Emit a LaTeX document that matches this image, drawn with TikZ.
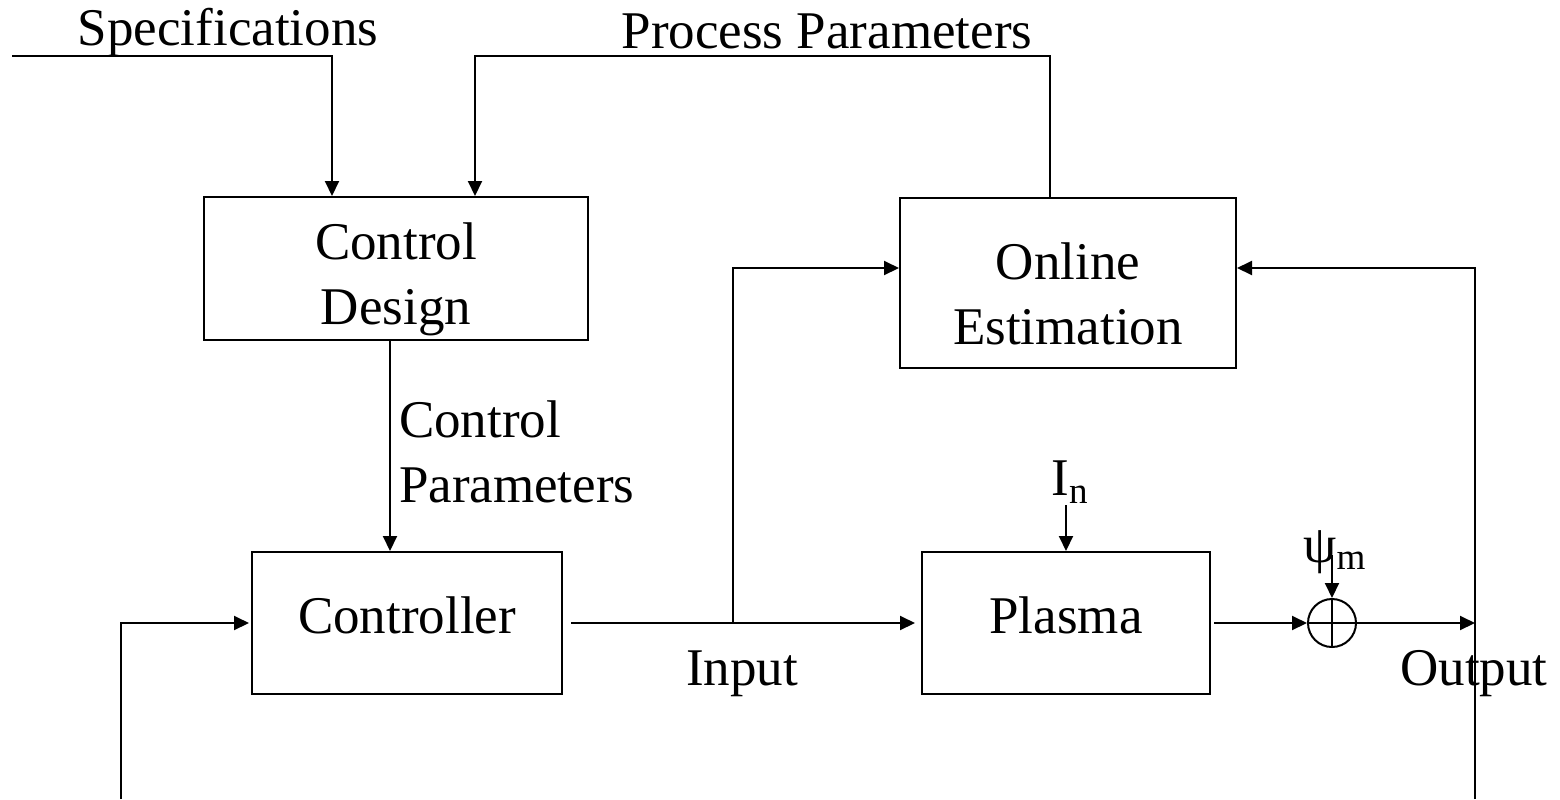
\documentclass[tikz,border=0pt]{standalone}
\usepackage{fontspec}
\setmainfont{Liberation Serif}
\usetikzlibrary{arrows.meta}
\newcommand\diagfont{\fontsize{26.5}{32.5}\selectfont}
\tikzset{
  block/.style={draw, line width=1pt, align=center, font=\diagfont},
  oneline/.style={text height=18pt, text depth=8pt},
  lbl/.style={inner sep=0pt, font=\diagfont},
}

\begin{document}
\begin{tikzpicture}[x=0.5pt, y=-0.5pt, line width=1pt,
  >={Triangle[length=7.5pt,width=7pt]}]
\useasboundingbox (0,0) rectangle (1560,799);
% blocks
\node[block, inner ysep=0pt, text height=62pt, minimum width=192pt, minimum height=71.5pt] (design) at (396,268.5) {Control\\Design};
\node[block, text height=61.5pt, minimum width=168pt, minimum height=85pt] (estim) at (1068,283) {Online\\Estimation};
\node[block, oneline, minimum width=155pt, minimum height=71pt] (ctrl) at (407,623) {Controller};
\node[block, oneline, minimum width=144pt, minimum height=71pt] (plasma) at (1066,623) {Plasma};
\node[circle, draw, minimum size=24pt, inner sep=0pt] (sum) at (1332,623) {};
\draw (sum.north) -- (sum.south) (sum.west) -- (sum.east);
% labels
\node[lbl] (spec) at (228,32) {Specifications};
\node[lbl] (procpar) at (827,31) {Process Parameters};
\node[lbl, anchor=west, align=left] (ctrlpar) at (398,452) {Control\\Parameters};
\node[lbl] (inp) at (742,674) {Input};
\node[lbl] (outp) at (1474,674) {Output};
\node[lbl] (noise) at (1070,482) {I\textsubscript{n}};
\node[lbl] (psi) at (1335,552) {ψ\textsubscript{m}};
% end points
\coordinate (specin) at (12,56);
\coordinate (pp) at (475,56);
\coordinate (split) at (733,623);
\coordinate (outj) at (1475,623);
\coordinate (outbot) at (1475,799);
\coordinate (fbbot) at (121,799);
\coordinate (noisetop) at (1066,505);
\coordinate (psitop) at (1332,555);
% connectors
\draw[->] (specin) -| ([xshift=-32pt]design.north);
\draw[->] ([xshift=-9pt]estim.north) |- (pp) -- ([xshift=39.5pt]design.north);
\draw[->] ([xshift=-3pt]design.south) -- ([xshift=-8.5pt]ctrl.north);
\draw[->] ([xshift=4pt]ctrl.east) -- ([xshift=-3pt]plasma.west);
\draw[->] (split) |- ([yshift=7.5pt]estim.west);
\draw[->] ([xshift=1.5pt]plasma.east) -- (sum.west);
\draw[->] (sum.east) -- (outj);
\draw[->] (outbot) |- ([yshift=7.5pt]estim.east);
\draw[->] (fbbot) |- ([xshift=-1pt]ctrl.west);
\draw[->] (noisetop) -- (plasma.north);
\draw[->] (psitop) -- (sum.north);
\end{tikzpicture}
\end{document}
